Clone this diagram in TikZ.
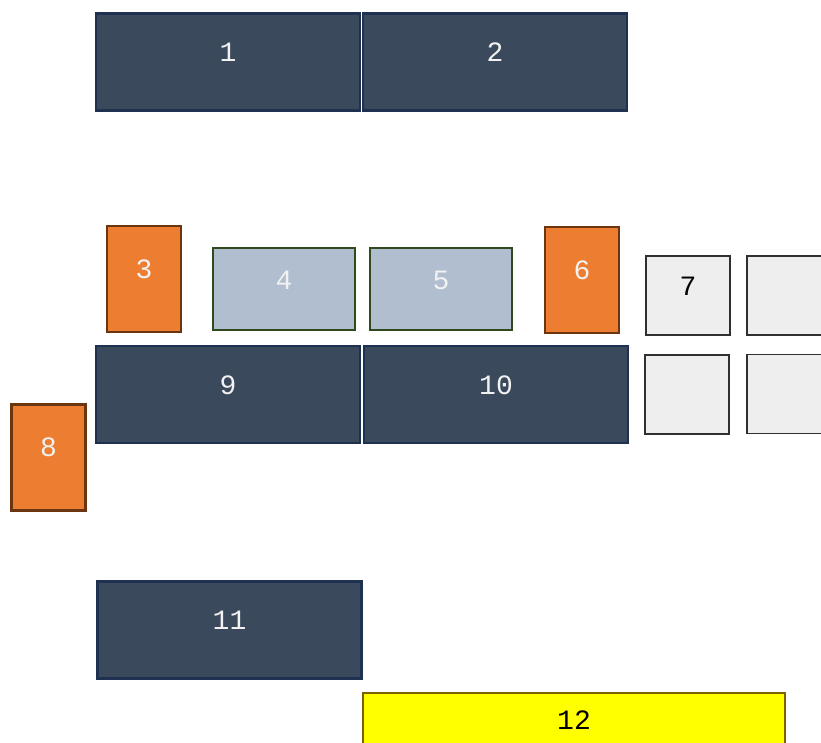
\documentclass[tikz,border=0pt]{standalone}
\usepackage{fontspec}
\newfontfamily\numfont{Liberation Mono}
\definecolor{navyfill}{HTML}{3A495C}
\definecolor{navyline}{HTML}{1F3150}
\definecolor{orfill}{HTML}{ED7D31}
\definecolor{orline}{HTML}{6B3510}
\definecolor{blfill}{HTML}{B0BED0}
\definecolor{blline}{HTML}{2E4A1E}
\definecolor{gyfill}{HTML}{EEEEEE}
\definecolor{gyline}{HTML}{303030}
\definecolor{ywfill}{HTML}{FFFF00}
\definecolor{ywline}{HTML}{7F6000}
\definecolor{lighttext}{HTML}{F2F2F2}
\tikzset{
  bx/.style={draw, line width=2.2pt, inner sep=0pt, rectangle},
  navybox/.style={bx, fill=navyfill, draw=navyline, minimum width=264pt, minimum height=97pt},
  orbox/.style={bx, fill=orfill, draw=orline, minimum width=74pt, minimum height=106pt},
  blbox/.style={bx, fill=blfill, draw=blline, minimum width=142pt, minimum height=82pt},
  gybox/.style={bx, fill=gyfill, draw=gyline, line width=1.4pt, minimum width=84pt, minimum height=79pt},
  ywbox/.style={bx, fill=ywfill, draw=ywline, minimum width=422pt, minimum height=80pt},
  lt/.style={font=\numfont\fontsize{28}{28}\selectfont, text=lighttext, inner sep=0pt},
  dk/.style={font=\numfont\fontsize{28}{28}\selectfont, text=black, inner sep=0pt},
}
\begin{document}
\begin{tikzpicture}[x=1pt,y=-1pt]
\useasboundingbox (0,0) rectangle (821,742);
\clip (0,0) rectangle (821,742);
\node[navybox, label={[lt,yshift=10pt]center:1}] (b1) at (228,62) {};
\node[navybox, label={[lt,yshift=10pt]center:2}] (b2) at (495,62) {};
\node[orbox, label={[lt,yshift=10pt]center:3}] (b3) at (144,279) {};
\node[blbox, label={[lt,yshift=9pt]center:4}] (b4) at (284,289) {};
\node[blbox, label={[lt,yshift=9pt]center:5}] (b5) at (441,289) {};
\node[orbox, label={[lt,yshift=10pt]center:6}] (b6) at (582,280) {};
\node[gybox, label={[dk,yshift=9pt]center:7}] (b7) at (688,295.5) {};
\node[gybox] (g1) at (789,295.5) {};
\node[gybox] (g2) at (687,394.5) {};
\node[gybox] (g3) at (789,394) {};
\node[navybox, label={[lt,yshift=9pt]center:9}] (b9) at (228,394.5) {};
\node[navybox, label={[lt,yshift=9pt]center:10}] (b10) at (496,394.5) {};
\node[orbox, label={[lt,yshift=10pt]center:8}] (b8) at (48.5,457.5) {};
\node[navybox, label={[lt,yshift=10pt]center:11}] (b11) at (229.5,630) {};
\node[ywbox, label={[dk,yshift=13pt]center:12}] (b12) at (574,733) {};
\end{tikzpicture}
\end{document}
